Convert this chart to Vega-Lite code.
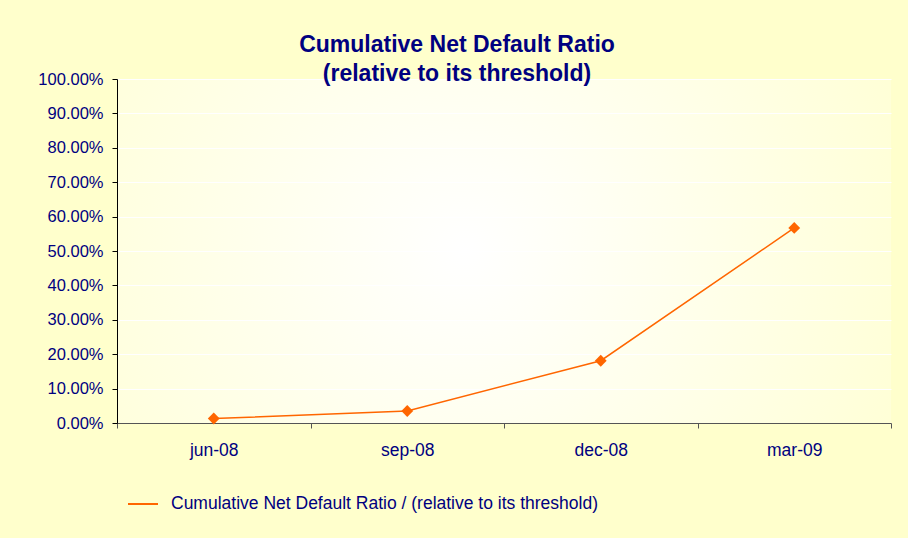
{
  "$schema": "https://vega.github.io/schema/vega-lite/v6.json",
  "width": 774,
  "height": 344,
  "autosize": {"type": "none"},
  "padding": {"left": 117, "top": 79, "right": 17, "bottom": 115},
  "background": "#FFFFCC",
  "title": {
    "text": ["Cumulative Net Default Ratio", "(relative to its threshold)"],
    "font": "Liberation Sans",
    "fontSize": 23,
    "fontWeight": "bold",
    "color": "#000080",
    "anchor": "middle",
    "dx": -47,
    "baseline": "alphabetic",
    "offset": -33,
    "lineHeight": 29
  },
  "data": {
    "values": [
      {"month": "jun-08", "value": 0.013, "series": "Cumulative Net Default Ratio / (relative to its threshold)"},
      {"month": "sep-08", "value": 0.035, "series": "Cumulative Net Default Ratio / (relative to its threshold)"},
      {"month": "dec-08", "value": 0.181, "series": "Cumulative Net Default Ratio / (relative to its threshold)"},
      {"month": "mar-09", "value": 0.567, "series": "Cumulative Net Default Ratio / (relative to its threshold)"}
    ]
  },
  "encoding": {
    "x": {
      "field": "month",
      "type": "ordinal",
      "sort": null,
      "bandPosition": 0.5,
      "scale": {"type": "band", "paddingInner": 0, "paddingOuter": 0},
      "axis": {
        "title": null,
        "labelAngle": 0,
        "grid": false,
        "domainColor": "#555555",
        "tickColor": "#555555",
        "tickSize": 5,
        "tickBand": "extent",
        "labelPadding": 13,
        "labelFont": "Liberation Sans",
        "labelFontSize": 17.5,
        "labelColor": "#000080"
      }
    },
    "y": {
      "field": "value",
      "type": "quantitative",
      "scale": {"domain": [0, 1], "nice": false},
      "axis": {
        "title": null,
        "values": [0, 0.1, 0.2, 0.3, 0.4, 0.5, 0.6, 0.7, 0.8, 0.9, 1],
        "format": ".2%",
        "grid": true,
        "gridColor": "#FFFFFF",
        "gridOpacity": 1,
        "gridWidth": 1,
        "domainColor": "#000000",
        "tickColor": "#000000",
        "tickSize": 5,
        "labelPadding": 9,
        "labelFont": "Liberation Sans",
        "labelFontSize": 16.5,
        "labelColor": "#000080"
      }
    }
  },
  "layer": [
    {
      "mark": {"type": "line", "strokeWidth": 1.5},
      "encoding": {
        "color": {
          "field": "series",
          "type": "nominal",
          "scale": {"range": ["#FF6600"]},
          "legend": {
            "title": null,
            "orient": "none",
            "legendX": 10,
            "legendY": 409,
            "symbolType": "stroke",
            "symbolSize": 900,
            "symbolStrokeWidth": 2,
            "labelOffset": 12,
            "labelFont": "Liberation Sans",
            "labelFontSize": 17.5,
            "labelColor": "#000080",
            "labelLimit": 0
          }
        }
      }
    },
    {
      "mark": {"type": "point", "shape": "diamond", "filled": true, "size": 140, "color": "#FF6600", "opacity": 1}
    }
  ],
  "config": {
    "view": {
      "stroke": null,
      "fill": {
        "gradient": "radial",
        "x1": 0.45, "y1": 0.5, "r1": 0,
        "x2": 0.45, "y2": 0.5, "r2": 0.75,
        "stops": [
          {"offset": 0, "color": "#FFFFFF"},
          {"offset": 1, "color": "#FFFFCC"}
        ]
      }
    }
  }
}
